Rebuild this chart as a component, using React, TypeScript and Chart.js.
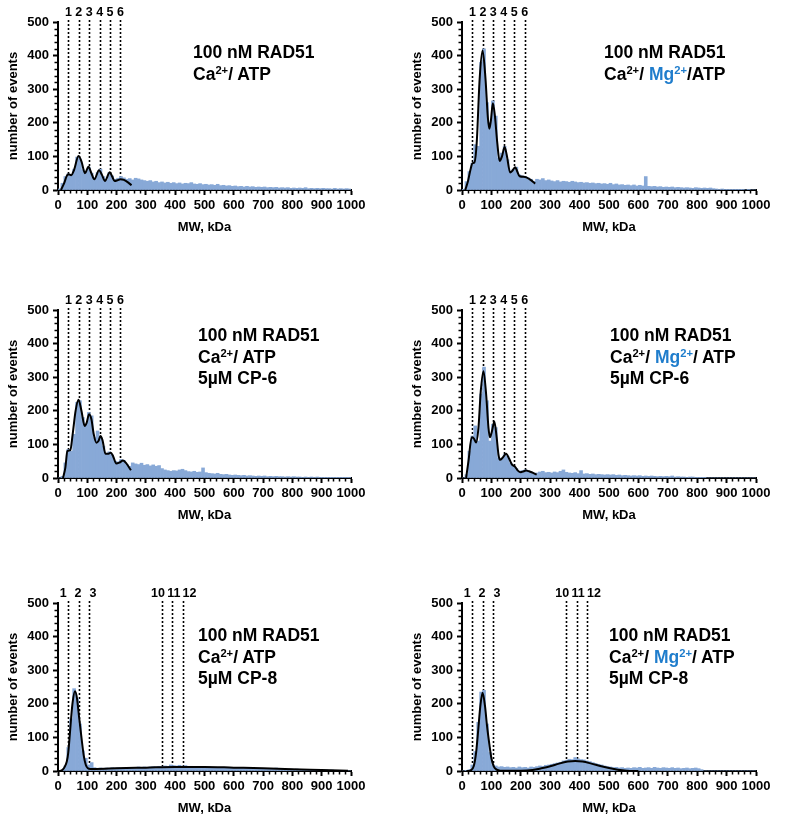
import React, { useEffect, useRef } from "react";
import { Chart, registerables } from "chart.js";

Chart.register(...registerables);

const FONT = '"Liberation Sans", Arial, Helvetica, sans-serif';
const BAR_COLOR = "#88a9d7";
const MG_COLOR = "#1f7dcc";

// histogram bin centres (kDa)
const binCenters = [5,15,25,35,45,55,65,75,85,95,105,115,125,135,145,155,165,175,185,195,205,215,225,235,245,255,265,275,285,295,305,315,325,335,345,355,365,375,385,395,405,415,425,435,445,455,465,475,485,495,505,515,525,535,545,555,565,575,585,595,605,615,625,635,645,655,665,675,685,695,705,715,725,735,745,755,765,775,785,795,805,815,825,835,845,855,865,875,885,895,905,915,925,935,945,955,965,975,985,995];

const xTicks = [0, 100, 200, 300, 400, 500, 600, 700, 800, 900, 1000];
const yTicks = [0, 100, 200, 300, 400, 500];

// panel A: Ca2+/ATP
const countsA = [3,20,40,48,46,62,98,92,60,55, 68,50,36,52,62,40,30,52,42,32, 35,40,36,32,34,30,35,33,30,28, 26,28,24,26,22,24,21,23,20,22, 19,21,18,20,19,22,18,17,19,16, 17,15,16,14,17,13,14,12,13,11, 12,10,11,9,11,9,10,8,9,8, 9,7,8,7,8,6,7,6,7,5, 6,5,6,5,7,4,5,4,5,4, 5,4,4,3,5,3,4,3,4,3];
const fitA: [number, number][] = [[10,0],[20,18],[30,42],[35,47],[45,44],[55,60],[70,101],[80,85],[92,50],[104,69],[114,50],[124,32],[140,59],[150,45],[160,27],[177,53],[185,40],[193,27],[203,29],[213,32],[225,30],[240,22],[251,14]];

// panel B: Ca2+/Mg2+/ATP
const countsB = [2,25,55,80,135,130,380,420,260,200, 265,220,95,110,130,90,55,62,68,45, 42,40,36,32,26,32,30,34,28,30, 27,25,28,24,26,25,23,26,24,22, 23,21,22,20,21,19,20,18,19,17, 20,16,18,15,16,14,15,13,15,12, 14,12,40,11,10,11,9,10,8,9, 8,9,7,8,7,6,7,6,5,7, 6,5,6,5,6,4,3,2,3,2, 2,1,2,1,1,1,0,1,0,0];
const fitB: [number, number][] = [[11,0],[20,25],[30,65],[36,80],[42,82],[50,140],[60,330],[70,415],[80,330],[88,215],[93,182],[98,205],[105,258],[112,220],[120,140],[128,86],[136,100],[145,128],[152,105],[164,52],[172,58],[181,68],[188,55],[196,41],[215,39],[232,31],[249,19]];

// panel C: Ca2+/ATP + 5 uM CP-6
const countsC = [0,5,45,85,80,130,225,230,180,160, 195,185,120,140,120,95,72,78,68,50, 48,55,52,40,35,45,42,40,44,38, 40,36,39,35,37,28,24,22,20,22, 21,24,26,22,19,18,20,17,18,30, 16,14,13,12,14,11,10,11,9,8, 9,8,7,8,6,7,6,5,6,5, 6,4,5,4,5,4,4,3,4,3, 4,3,3,2,3,2,3,2,3,2, 2,2,1,2,1,2,1,1,1,1];
const fitC: [number, number][] = [[17,0],[25,30],[32,80],[42,83],[50,130],[60,200],[70,233],[80,200],[91,155],[98,165],[106,190],[114,175],[122,130],[131,105],[138,110],[145,125],[152,112],[162,72],[170,72],[180,75],[188,65],[199,43],[210,46],[222,52],[232,45],[249,23]];

// panel D: Ca2+/Mg2+/ATP + 5 uM CP-6
const countsD = [0,10,80,125,155,110,250,330,230,110, 160,150,60,55,70,65,45,35,28,20, 22,24,20,16,14,15,18,20,16,17, 15,18,16,20,24,17,15,14,16,13, 22,12,13,11,12,10,11,10,9,10, 9,10,8,9,7,8,7,6,7,6, 7,5,6,5,6,5,4,5,4,5, 4,6,3,4,3,3,2,3,3,2, 2,1,1,0,0,0,0,0,0,0, 0,0,0,0,0,0,0,0,0,0];
const fitD: [number, number][] = [[14,0],[22,50],[33,121],[40,118],[48,106],[56,150],[64,260],[73,318],[82,250],[90,150],[95,121],[102,140],[110,168],[118,120],[124,70],[129,54],[138,60],[150,72],[160,58],[170,40],[180,34],[190,22],[200,17],[210,20],[218,22],[228,20],[237,17],[254,10]];

// panel E: Ca2+/ATP + 5 uM CP-8
const countsE = [0,2,15,70,155,245,215,140,60,38, 18,25,10,8,9,8,9,8,10,9, 10,9,10,11,10,11,10,12,11,12, 11,12,13,12,14,13,15,14,18,16, 15,17,14,16,13,14,13,12,13,12, 11,12,11,10,11,10,11,10,9,10, 9,10,9,8,9,8,9,8,7,8, 7,8,7,6,9,6,7,6,5,6, 5,6,4,5,4,5,3,4,3,4, 3,3,2,3,2,1,0,0,0,0];
const fitE: [number, number][] = [[0,0],[10,1],[20,8],[30,28],[35,55],[40,105],[45,160],[50,205],[58,237],[65,215],[72,160],[80,100],[88,45],[95,18],[102,8],[110,6],[130,6],[200,8],[300,10],[400,12],[500,12],[600,10],[700,8],[800,5],[900,3],[990,1]];

// panel F: Ca2+/Mg2+/ATP + 5 uM CP-8
const countsF = [0,1,4,18,58,145,235,240,140,55, 18,15,12,13,11,12,10,11,9,12, 10,11,9,12,11,13,15,14,17,18, 20,22,24,26,30,32,35,34,40,36, 34,33,30,28,25,22,20,18,15,13, 12,10,11,9,10,8,9,8,10,9, 11,8,9,10,8,11,9,8,10,9, 8,10,8,9,7,8,9,7,8,9, 7,4,0,0,0,0,0,0,0,0, 0,0,0,0,0,0,0,0,0,0];
const fitF: [number, number][] = [[15,0],[22,0],[30,2],[40,15],[48,55],[55,120],[62,190],[70,233],[78,195],[85,135],[93,80],[100,38],[108,14],[118,4],[130,1],[200,1],[240,3],[270,8],[300,14],[330,22],[360,28],[385,30],[410,28],[440,22],[470,15],[500,9],[530,4],[560,1],[600,0]];

// dashed reference lines (kDa) and their labels
const markersLow = [35.5, 71, 106.5, 142, 177.5, 213];
const labelsLow = ["1", "2", "3", "4", "5", "6"];
const markersCP8 = [35.5, 71, 106.5, 355, 390.5, 426];
const labelsCP8 = ["1", "2", "3", "10", "11", "12"];
const labelPosCP8 = [18, 68, 119, 341, 395, 449];

const decorPlugin = {
  id: "decor",
  beforeDatasetsDraw(chart: any, _args: any, opts: any) {
    const { ctx, chartArea, scales } = chart;
    const xs = scales.x;
    ctx.save();
    ctx.strokeStyle = "#000";
    ctx.lineWidth = 1.6;
    ctx.setLineDash([2, 2]);
    for (const m of opts.markers) {
      const px = Math.round(xs.getPixelForValue(m)) + 0.5;
      ctx.beginPath();
      ctx.moveTo(px, chartArea.top - 2);
      ctx.lineTo(px, chartArea.bottom);
      ctx.stroke();
    }
    ctx.restore();
  },
  afterDraw(chart: any, _args: any, opts: any) {
    const { ctx, chartArea, scales } = chart;
    const xs = scales.x;
    const ys = scales.y;
    ctx.save();
    ctx.strokeStyle = "#000";
    ctx.lineWidth = 1.5;
    ctx.beginPath();
    for (let v = 20; v < 1000; v += 20) {
      if (v % 100 === 0) continue;
      const px = Math.round(xs.getPixelForValue(v)) + 0.5;
      ctx.moveTo(px, chartArea.bottom);
      ctx.lineTo(px, chartArea.bottom + 3.5);
    }
    for (let v = 20; v < 500; v += 20) {
      if (v % 100 === 0) continue;
      const py = Math.round(ys.getPixelForValue(v)) + 0.5;
      ctx.moveTo(chartArea.left, py);
      ctx.lineTo(chartArea.left - 3.5, py);
    }
    ctx.stroke();
    ctx.fillStyle = "#000";
    ctx.font = `bold 12.5px ${FONT}`;
    ctx.textAlign = "center";
    ctx.textBaseline = "middle";
    opts.labels.forEach((t: string, i: number) => {
      const px = xs.getPixelForValue(opts.labelPos[i]);
      ctx.fillText(t, px, chartArea.top - 9);
    });
    ctx.restore();
  },
};

const Sup = ({ children }: { children: React.ReactNode }) => (
  <span style={{ fontSize: "0.64em", verticalAlign: "0.5em", lineHeight: 0 }}>{children}</span>
);
const Mg = () => (
  <span style={{ color: MG_COLOR }}>
    Mg<Sup>2+</Sup>
  </span>
);

type PanelCfg = {
  left: number;
  top: number;
  width: number;
  height: number;
  padTop: number;
  padRight: number;
  counts: number[];
  fit: [number, number][];
  markers: number[];
  labels: string[];
  labelPos: number[];
  noteX: number;
  noteY: number;
  note: React.ReactNode[];
};

const panels: PanelCfg[] = [
  {
    left: 0, top: 0, width: 385, height: 240, padTop: 22, padRight: 34,
    counts: countsA, fit: fitA, markers: markersLow, labels: labelsLow, labelPos: markersLow,
    noteX: 193, noteY: 42,
    note: ["100 nM RAD51", <>Ca<Sup>2+</Sup>/ ATP</>],
  },
  {
    left: 404, top: 0, width: 383, height: 240, padTop: 22, padRight: 31,
    counts: countsB, fit: fitB, markers: markersLow, labels: labelsLow, labelPos: markersLow,
    noteX: 604, noteY: 42,
    note: ["100 nM RAD51", <>Ca<Sup>2+</Sup>/ <Mg />/ATP</>],
  },
  {
    left: 0, top: 290, width: 385, height: 238, padTop: 20, padRight: 34,
    counts: countsC, fit: fitC, markers: markersLow, labels: labelsLow, labelPos: markersLow,
    noteX: 198, noteY: 325,
    note: ["100 nM RAD51", <>Ca<Sup>2+</Sup>/ ATP</>, "5µM CP-6"],
  },
  {
    left: 404, top: 290, width: 383, height: 238, padTop: 20, padRight: 31,
    counts: countsD, fit: fitD, markers: markersLow, labels: labelsLow, labelPos: markersLow,
    noteX: 610, noteY: 325,
    note: ["100 nM RAD51", <>Ca<Sup>2+</Sup>/ <Mg />/ ATP</>, "5µM CP-6"],
  },
  {
    left: 0, top: 580, width: 385, height: 241, padTop: 23, padRight: 34,
    counts: countsE, fit: fitE, markers: markersCP8, labels: labelsCP8, labelPos: labelPosCP8,
    noteX: 198, noteY: 625,
    note: ["100 nM RAD51", <>Ca<Sup>2+</Sup>/ ATP</>, "5µM CP-8"],
  },
  {
    left: 404, top: 580, width: 383, height: 241, padTop: 23, padRight: 31,
    counts: countsF, fit: fitF, markers: markersCP8, labels: labelsCP8, labelPos: labelPosCP8,
    noteX: 609, noteY: 625,
    note: ["100 nM RAD51", <>Ca<Sup>2+</Sup>/ <Mg />/ ATP</>, "5µM CP-8"],
  },
];

function Panel({ cfg }: { cfg: PanelCfg }) {
  const ref = useRef<HTMLCanvasElement>(null);
  useEffect(() => {
    const tickFont = { family: FONT, size: 13, weight: "bold" as const };
    const titleFont = { family: FONT, size: 13, weight: "bold" as const };
    const fmt = (v: any) => String(v);
    const chart = new Chart(ref.current as HTMLCanvasElement, {
      type: "bar",
      data: {
        datasets: [
          {
            type: "line",
            data: cfg.fit.map(([x, y]) => ({ x, y })),
            borderColor: "#000",
            borderWidth: 2,
            pointRadius: 0,
            cubicInterpolationMode: "monotone",
            fill: false,
            order: 0,
          } as any,
          {
            type: "bar",
            data: cfg.counts.map((v, i) => ({ x: binCenters[i], y: v })),
            backgroundColor: BAR_COLOR,
            borderWidth: 0,
            barPercentage: 1,
            categoryPercentage: 1,
            order: 1,
          } as any,
        ],
      },
      options: {
        responsive: false,
        animation: false,
        events: [],
        layout: { padding: { top: cfg.padTop, right: cfg.padRight, left: 0, bottom: 0 } },
        plugins: {
          legend: { display: false },
          tooltip: { enabled: false },
          decor: { markers: cfg.markers, labels: cfg.labels, labelPos: cfg.labelPos },
        } as any,
        scales: {
          x: {
            type: "linear",
            min: xTicks[0],
            max: xTicks[xTicks.length - 1],
            offset: false,
            afterFit: (s: any) => { s.height = 50; },
            afterBuildTicks: (s: any) => { s.ticks = xTicks.map((v) => ({ value: v })); },
            ticks: { autoSkip: false, maxRotation: 0, minRotation: 0, font: tickFont, color: "#000", padding: 3, callback: fmt },
            grid: { display: true, drawOnChartArea: false, drawTicks: true, tickLength: 5, tickWidth: 2, tickColor: "#000", offset: false },
            border: { display: true, color: "#000", width: 2 },
            title: { display: true, text: "MW, kDa", font: titleFont, color: "#000", padding: { top: 0, bottom: 5 } },
          },
          y: {
            type: "linear",
            min: yTicks[0],
            max: yTicks[yTicks.length - 1],
            afterFit: (s: any) => { s.width = 58; },
            afterBuildTicks: (s: any) => { s.ticks = yTicks.map((v) => ({ value: v })); },
            ticks: { font: tickFont, color: "#000", padding: 4, callback: fmt },
            grid: { display: true, drawOnChartArea: false, drawTicks: true, tickLength: 5, tickWidth: 2, tickColor: "#000" },
            border: { display: true, color: "#000", width: 2 },
            title: { display: true, text: "number of events", font: titleFont, color: "#000", padding: { top: 6, bottom: 0 } },
          },
        },
      } as any,
      plugins: [decorPlugin as any],
    });
    return () => chart.destroy();
  }, [cfg]);
  return (
    <canvas
      ref={ref}
      width={cfg.width}
      height={cfg.height}
      style={{ position: "absolute", left: cfg.left, top: cfg.top, width: cfg.width, height: cfg.height }}
    />
  );
}

export default function App() {
  return (
    <div style={{ position: "absolute", left: 0, top: 0, width: 787, height: 821, background: "#fff", overflow: "hidden" }}>
      {panels.map((p, i) => (
        <React.Fragment key={i}>
          <Panel cfg={p} />
          <div
            style={{
              position: "absolute",
              left: p.noteX,
              top: p.noteY,
              fontFamily: FONT,
              fontWeight: "bold",
              fontSize: 17.5,
              lineHeight: "21.7px",
              color: "#000",
              whiteSpace: "nowrap",
            }}
          >
            {p.note.map((line, j) => (
              <div key={j}>{line}</div>
            ))}
          </div>
        </React.Fragment>
      ))}
    </div>
  );
}
